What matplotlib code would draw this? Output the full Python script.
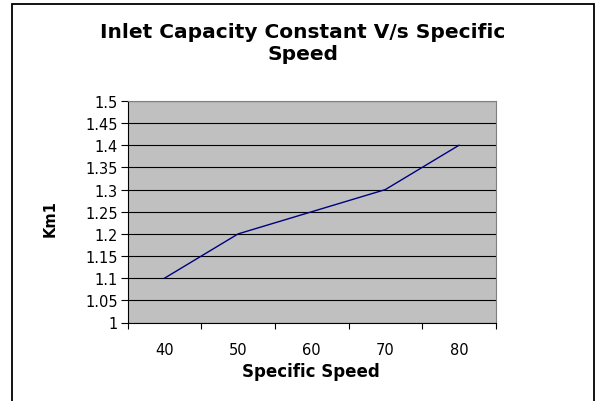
import matplotlib
matplotlib.use("Agg")
import matplotlib.pyplot as plt
from matplotlib.patches import Rectangle

# wide sans face for the labels
plt.rcParams['font.family'] = ['DejaVu Sans']

speeds = ['40', '50', '60', '70', '80']
km1 = [1.1, 1.2, 1.25, 1.3, 1.4]
y_ticks = [1, 1.05, 1.1, 1.15, 1.2, 1.25, 1.3, 1.35, 1.4, 1.45, 1.5]
y_labels = ['1', '1.05', '1.1', '1.15', '1.2', '1.25', '1.3', '1.35', '1.4', '1.45', '1.5']

W, H = 597, 402
fig = plt.figure(figsize=(W / 100, H / 100), dpi=100)

# chart frame (runs off the bottom edge)
fig.patches.append(Rectangle((12 / W, -0.05), (594 - 12) / W, 1.05 - 5 / H,
                             transform=fig.transFigure, fill=False,
                             edgecolor='black', linewidth=1.3))

ax = fig.add_axes([127.7 / W, 1 - 323.5 / H, (495.7 - 127.7) / W, (323.5 - 102) / H])
ax.set_facecolor('#C0C0C0')

xs = list(range(1, len(speeds) + 1))
ax.plot(xs, km1, color='#000080', linewidth=1.0, zorder=3)

ax.set_xlim(0.5, len(speeds) + 0.5)
ax.set_ylim(1, 1.5)

# category axis: ticks between categories, labels under categories
ax.set_xticks([i + 0.5 for i in range(0, len(speeds) + 1)])
ax.set_xticklabels([])
ax.set_xticks(xs, minor=True)
ax.set_xticklabels(speeds, minor=True)
ax.tick_params(axis='x', which='major', direction='out', length=4.5, width=0.8, color='black')
ax.tick_params(axis='x', which='minor', length=0, pad=14, labelsize=10.5)

ax.set_yticks(y_ticks)
ax.set_yticklabels(y_labels)
ax.tick_params(axis='y', direction='out', length=5, width=0.8, pad=2, labelsize=10.5)

ax.grid(axis='y', color='black', linewidth=0.8)
ax.set_axisbelow(True)

for side in ('top', 'right'):
    ax.spines[side].set_color('#808080')
    ax.spines[side].set_linewidth(0.8)
for side in ('left', 'bottom'):
    ax.spines[side].set_color('black')
    ax.spines[side].set_linewidth(0.8)

fig.text(303 / W, 1 - 43 / H, 'Inlet Capacity Constant V/s Specific\nSpeed',
         ha='center', va='center', fontsize=14.5, fontweight='bold', linespacing=1.2)
fig.text(50 / W, 1 - 219 / H, 'Km1', rotation=90, ha='center', va='center',
         fontsize=10.5, fontweight='bold')
fig.text(311 / W, 1 - 372 / H, 'Specific Speed', ha='center', va='center',
         fontsize=12, fontweight='bold')

fig.savefig('out.png', dpi=100)
